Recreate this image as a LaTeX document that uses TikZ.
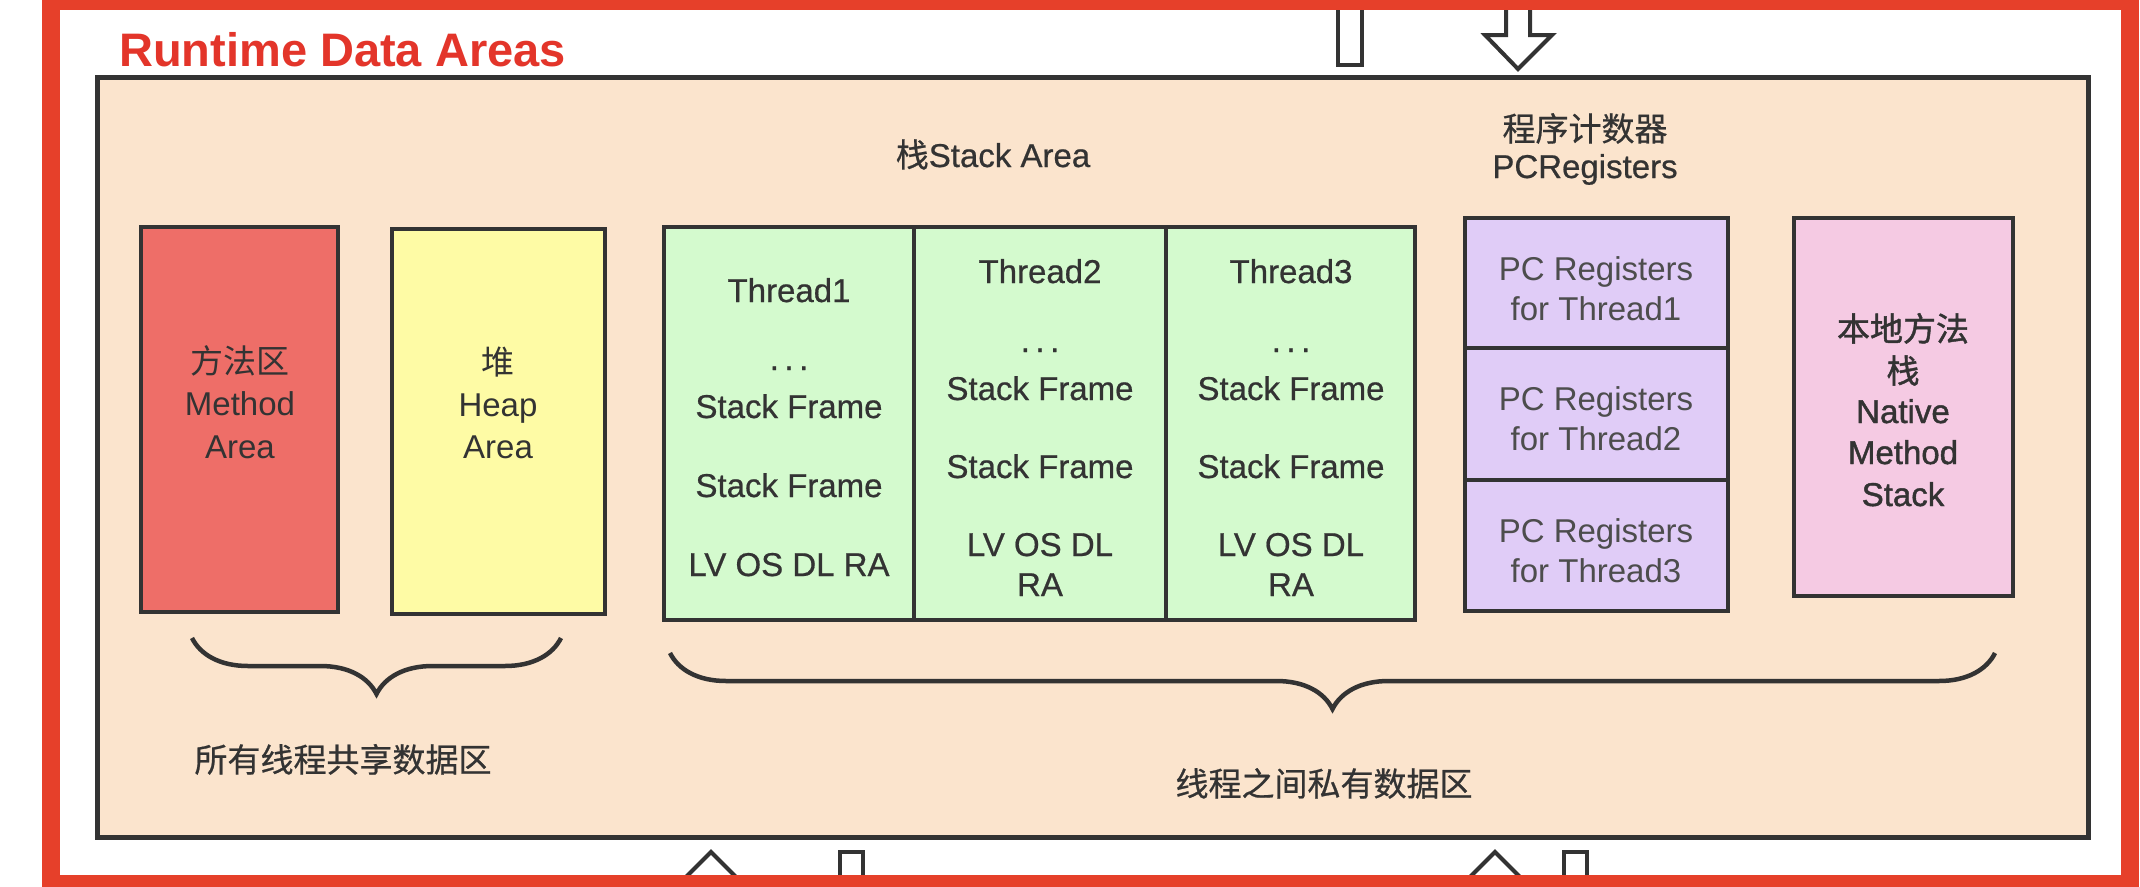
\documentclass[tikz,border=0pt]{standalone}
\usepackage{fontspec}
\setmainfont{Liberation Sans}
\newfontfamily\cjk{Noto Sans CJK SC}
\newfontfamily\cu{Liberation Sans}[FakeBold=0.6]
\newfontfamily\cjkcu{Noto Sans CJK SC}[FakeBold=0.6]
\newfontfamily\heavy{Liberation Sans}[FakeBold=1.3]
\newfontfamily\cjkheavy{Noto Sans CJK SC}[FakeBold=1.3]
\usetikzlibrary{positioning,decorations.pathreplacing}
\definecolor{ink}{HTML}{333333}
\definecolor{softink}{HTML}{4D4D4D}
\definecolor{beige}{HTML}{FBE4CD}
\definecolor{methodred}{HTML}{EE6E68}
\definecolor{heapyellow}{HTML}{FEFBA5}
\definecolor{threadgreen}{HTML}{D4FACE}
\definecolor{pcpurple}{HTML}{E0CCF7}
\definecolor{nativepink}{HTML}{F5CAE3}
\definecolor{framered}{HTML}{E6402A}
\definecolor{titlered}{HTML}{E3352A}

\begin{document}
\begin{tikzpicture}[x=1pt,y=-1pt]
\tikzset{kuang/.style={draw=ink, line width=4.5pt, rectangle, inner sep=0pt, outer sep=0pt}}
\tikzset{wen/.style={anchor=base, inner sep=0pt, text=ink, font=\fontsize{33}{40}\selectfont}}
\tikzset{wencu/.style={wen, font=\fontsize{33}{40}\selectfont\cu}}
\tikzset{wenheavy/.style={wen, font=\fontsize{33}{40}\selectfont\heavy}}
\tikzset{kuohao/.style={draw=ink, line width=4.5pt, decorate, decoration={brace, amplitude=56pt}}}
\tikzset{kong/.style={draw=ink, line width=4pt, fill=white, line join=miter}}

\useasboundingbox (0,0) rectangle (2140,886);
\fill[white] (0,0) rectangle (2140,886);

\filldraw[fill=beige, draw=ink, line width=5pt] (97,77) rectangle (2088,837);

\path[kong] (1338,-20) rectangle (1362,65);
\path[kong] (1506,-20) -- (1506,35) -- (1485,35) -- (1518,69) -- (1552,35) -- (1530,35) -- (1530,-20) -- cycle;
\path[kong] (711,852) -- (672,891) -- (696,891) -- (696,930) -- (726,930) -- (726,891) -- (750,891) -- cycle;
\path[kong] (840,852) rectangle (863,930);
\path[kong] (1495,852) -- (1456,891) -- (1480,891) -- (1480,930) -- (1510,930) -- (1510,891) -- (1534,891) -- cycle;
\path[kong] (1564,852) rectangle (1587,930);

\draw[framered, line width=18pt] (51,1) rectangle (2130,884);

\node[anchor=base west, inner sep=0pt, text=titlered, font=\fontsize{47}{56}\selectfont\bfseries](title)at(119,66){Runtime Data Areas};

\node[kuang, fill=methodred, minimum width=197pt, minimum height=385pt](ma)at(239.5,419.5){};
\node[kuang, fill=heapyellow, minimum width=213pt, minimum height=385pt](ha)at(498.5,421.5){};
\node[kuang, fill=threadgreen, minimum width=250pt, minimum height=393pt](t1)at(789,423.5){};
\node[kuang, fill=threadgreen, minimum width=252pt, minimum height=393pt, right=0pt of t1](t2){};
\node[kuang, fill=threadgreen, minimum width=249pt, minimum height=393pt, right=0pt of t2](t3){};
\node[kuang, fill=pcpurple, minimum width=263pt, minimum height=130pt](pc1)at(1596.5,283){};
\node[kuang, fill=pcpurple, minimum width=263pt, minimum height=132pt, below=0pt of pc1](pc2){};
\node[kuang, fill=pcpurple, minimum width=263pt, minimum height=131pt, below=0pt of pc2](pc3){};
\node[kuang, fill=nativepink, minimum width=219pt, minimum height=378pt](na)at(1903.5,407){};

\node[wen](ma1)at(240,373){\cjk 方法区};
\node[wen](ma2)at(240,415){Method};
\node[wen](ma3)at(240,458){Area};

\node[wen](ha1)at(498,374){\cjk 堆};
\node[wen](ha2)at(498,416){Heap};
\node[wen](ha3)at(498,458){Area};

\node[wencu](sa)at(993,167){{\cjkcu 栈}Stack Area};

\node[wencu](t11)at(789,302){Thread1};
\node[wencu](t12)at(789,370){.\,.\,.};
\node[wencu](t13)at(789,418){Stack Frame};
\node[wencu](t14)at(789,497){Stack Frame};
\node[wencu](t15)at(789,576){LV OS DL RA};

\node[wencu](t21)at(1040,283){Thread2};
\node[wencu](t22)at(1040,352){.\,.\,.};
\node[wencu](t23)at(1040,400){Stack Frame};
\node[wencu](t24)at(1040,478){Stack Frame};
\node[wencu](t25)at(1040,556){LV OS DL};
\node[wencu](t26)at(1040,596){RA};

\node[wencu](t31)at(1291,283){Thread3};
\node[wencu](t32)at(1291,352){.\,.\,.};
\node[wencu](t33)at(1291,400){Stack Frame};
\node[wencu](t34)at(1291,478){Stack Frame};
\node[wencu](t35)at(1291,556){LV OS DL};
\node[wencu](t36)at(1291,596){RA};

\node[wencu](pch1)at(1585,141){\cjkcu 程序计数器};
\node[wencu](pch2)at(1585,178){PCRegisters};
\node[wen, text=softink](pc11)at(1596,280){PC Registers};
\node[wen, text=softink](pc12)at(1596,320){for Thread1};
\node[wen, text=softink](pc21)at(1596,410){PC Registers};
\node[wen, text=softink](pc22)at(1596,450){for Thread2};
\node[wen, text=softink](pc31)at(1596,542){PC Registers};
\node[wen, text=softink](pc32)at(1596,582){for Thread3};

\node[wenheavy](na1)at(1903,341){\cjkheavy 本地方法};
\node[wenheavy](na2)at(1903,383){\cjkheavy 栈};
\node[wenheavy](na3)at(1903,423){Native};
\node[wenheavy](na4)at(1903,464){Method};
\node[wenheavy](na5)at(1903,506){Stack};

\coordinate (k1r) at (561,638);
\coordinate (k1l) at (192,638);
\coordinate (k2r) at (1995,653);
\coordinate (k2l) at (670,653);
\path[kuohao] (k1r) -- (k1l);
\path[kuohao] (k2r) -- (k2l);

\node[wencu](gx)at(343,772){\cjkcu 所有线程共享数据区};
\node[wencu](sy)at(1324,796){\cjkcu 线程之间私有数据区};
\end{tikzpicture}
\end{document}
